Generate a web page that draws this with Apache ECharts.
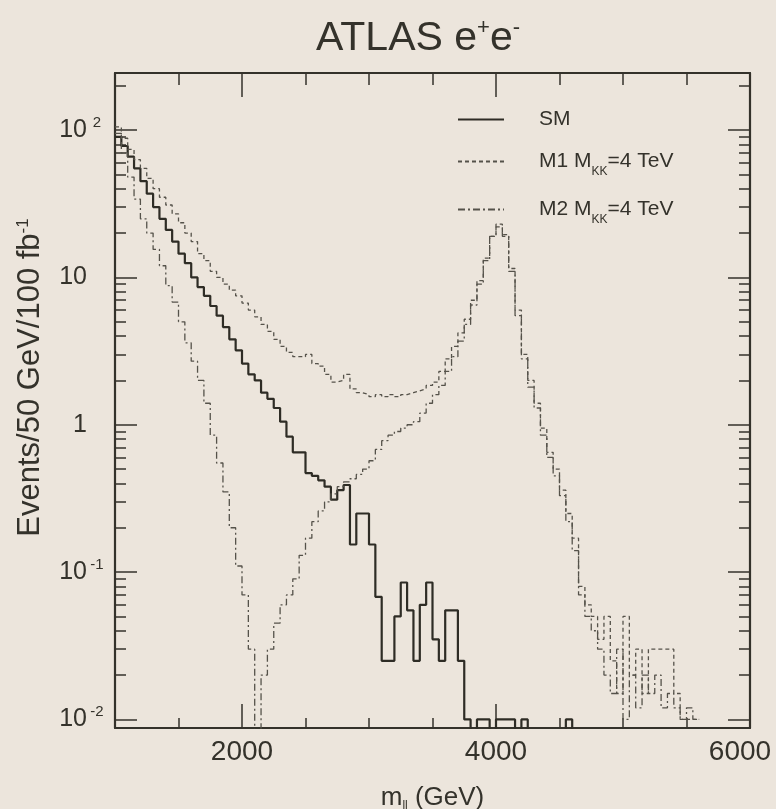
<!DOCTYPE html>
<html>
<head>
<meta charset="utf-8">
<script src="https://cdn.jsdelivr.net/npm/echarts@6/dist/echarts.min.js"></script>
<style>
html,body{margin:0;padding:0;background:#ece5dc;}
#chart{width:776px;height:809px;}
</style>
</head>
<body>
<div id="chart"></div>
<script>
// Bin definition (GeV): histograms with 50 GeV bins starting at binStart
const binStart = 1000;
const binWidth = 50;

// SM Drell-Yan e+e- (events / 50 GeV / 100 fb^-1), bins from 1000 GeV
const smValues = [
  90, 78, 66, 55, 45, 37, 30, 25, 21, 17.5,
  14.5, 12.5, 10, 8.6, 7.5, 6.4, 5.5, 4.6, 3.8, 3.2,
  2.6, 2.2, 2.0, 1.65, 1.5, 1.3, 1.05, 0.83, 0.65, 0.65,
  0.47, 0.45, 0.42, 0.38, 0.31, 0.36, 0.39, 0.154, 0.25, 0.25,
  0.154, 0.068, 0.025, 0.025, 0.05, 0.085, 0.055, 0.025, 0.06, 0.085,
  0.035, 0.025, 0.055, 0.055, 0.025, 0.01, 0, 0.01, 0.01, 0,
  0.01, 0.01, 0.01, 0, 0.01, 0, 0, 0, 0, 0,
  0, 0.01, 0
];

// Model M1, M_KK = 4 TeV
const m1Values = [
  105, 88, 74, 63, 55, 47, 40, 35, 31, 27,
  23.5, 20, 17.5, 14.5, 13, 11, 10, 9, 8.2, 7.5,
  6.7, 6.0, 5.4, 4.8, 4.3, 3.8, 3.4, 3.1, 2.9, 2.9,
  3.0, 2.6, 2.5, 2.2, 1.95, 2.0, 2.2, 1.75, 1.65, 1.6,
  1.55, 1.6, 1.55, 1.6, 1.55, 1.6, 1.65, 1.7, 1.75, 1.85,
  1.95, 2.3, 2.8, 3.4, 4.2, 5.2, 7.0, 9.5, 13.5, 19,
  23, 19.5, 11.5, 6, 3.0, 2.0, 1.4, 0.95, 0.65, 0.5,
  0.36, 0.25, 0.17, 0.08, 0.06, 0.05, 0.035, 0.05, 0.025, 0.015,
  0.05, 0.02, 0.03, 0.015, 0.03, 0.03, 0.03, 0.03, 0.015, 0.01,
  0.01, 0.01
];

// Model M2, M_KK = 4 TeV
const m2Values = [
  95, 70, 48, 34, 25, 20, 15.5, 12, 8.8, 6.8,
  5.0, 3.6, 2.7, 2.0, 1.4, 0.85, 0.55, 0.35, 0.2, 0.11,
  0.07, 0.03, 0.005, 0.02, 0.03, 0.045, 0.06, 0.07, 0.09, 0.13,
  0.17, 0.22, 0.26, 0.3, 0.34, 0.38, 0.41, 0.43, 0.46, 0.5,
  0.57, 0.68, 0.78, 0.85, 0.9, 0.95, 1.0, 1.05, 1.2, 1.4,
  1.6, 1.85, 2.3, 2.9, 3.7, 4.8, 6.5, 9, 13, 19,
  22, 19, 11, 5.5, 2.8, 1.8, 1.3, 0.85, 0.6, 0.45,
  0.33, 0.22, 0.14, 0.07, 0.05, 0.04, 0.03, 0.02, 0.015, 0.03,
  0.01, 0.02, 0.012, 0.02, 0.015, 0.02, 0.012, 0.015, 0.012, 0.01,
  0.012, 0.01
];

// Axes
const xMin = 1000, xMax = 6000, xMinorStep = 500;
const xMajorTicks = [2000, 4000, 6000];
const yMin = 0.00875, yMax = 244;
const yMajorTicks = [0.01, 0.1, 1, 10, 100];
const yMinorTicks = [0.02,0.03,0.04,0.05,0.06,0.07,0.08,0.09,
                     0.2,0.3,0.4,0.5,0.6,0.7,0.8,0.9,
                     2,3,4,5,6,7,8,9,
                     20,30,40,50,60,70,80,90,200];

const ink = '#34322b';
const FONT = 'Liberation Sans, Arial, sans-serif';
const FLOOR = 1e-3; // empty bins are drawn below the axis floor

function histPoints(values) {
  const pts = values.map((v, i) => [binStart + i * binWidth, v > 0 ? v : FLOOR]);
  const last = values[values.length - 1];
  pts.push([binStart + values.length * binWidth, last > 0 ? last : FLOOR]);
  return pts;
}

function yLabel(v) {
  const e = Math.round(Math.log10(v));
  if (e === 0) return '{b|1}{s| }';
  if (e === 1) return '{b|10}{s| }';
  return '{b|10}{s|' + e + '}';
}

function xLabel(v) {
  return v === xMax ? '{r|' + v + '}' : '{n|' + v + '}';
}

const xBase = {type: 'value', min: xMin, max: xMax, splitLine: {show: false}};
const yBase = {type: 'log', logBase: 10, min: yMin, max: yMax, splitLine: {show: false}};

const chart = echarts.init(document.getElementById('chart'));
chart.setOption({
  backgroundColor: '#ece5dc',
  animation: false,
  title: {
    text: '{t|ATLAS e}{s|+}{t|e}{s|-}',
    left: 311, top: 12,
    textStyle: {
      fontWeight: 'normal',
      rich: {
        t: {fontFamily: FONT, fontSize: 41, fontWeight: 'normal', color: ink, lineHeight: 44},
        s: {fontFamily: FONT, fontSize: 22, fontWeight: 'normal', color: ink, verticalAlign: 'top', lineHeight: 20}
      }
    }
  },
  grid: {left: 115, right: 26, top: 73, bottom: 81, outerBoundsMode: 'none', containLabel: false},
  legend: {
    orient: 'vertical', left: 452, top: 104,
    itemWidth: 46, itemHeight: 14, itemGap: 21,
    data: ['SM', 'M1', 'M2'],
    itemStyle: {opacity: 0},
    formatter: n => n === 'SM' ? '{a|SM}' : '{a|' + n + ' M}{k|KK}{a|=4 TeV}',
    textStyle: {
      padding: [0, 0, 0, 30],
      rich: {
        a: {fontFamily: FONT, fontSize: 21, color: ink},
        k: {fontFamily: FONT, fontSize: 12, color: ink, verticalAlign: 'bottom', padding: [0, 0, -6, 0]}
      }
    }
  },
  xAxis: [
    Object.assign({}, xBase, {
      position: 'bottom', interval: xMinorStep,
      axisLine: {show: true, lineStyle: {color: ink, width: 2.2}},
      axisTick: {show: true, inside: true, length: 10, lineStyle: {color: ink, width: 1.5}},
      axisLabel: {
        customValues: xMajorTicks, formatter: xLabel, margin: 10,
        rich: {
          n: {fontFamily: FONT, fontSize: 28, color: ink},
          r: {fontFamily: FONT, fontSize: 28, color: ink, padding: [0, 20, 0, 0]}
        }
      },
      name: '{a|m}{b|ll}{a| (GeV)}', nameLocation: 'middle', nameGap: 56,
      nameTextStyle: {rich: {
        a: {fontFamily: FONT, fontSize: 26, color: ink, lineHeight: 28},
        b: {fontFamily: FONT, fontSize: 12, color: ink, verticalAlign: 'bottom', lineHeight: 12}
      }}
    }),
    Object.assign({}, xBase, {
      position: 'bottom',
      axisLine: {show: false},
      axisTick: {show: true, inside: true, length: 24, customValues: xMajorTicks, lineStyle: {color: ink, width: 1.5}},
      axisLabel: {show: false}
    }),
    Object.assign({}, xBase, {
      position: 'top', interval: xMinorStep,
      axisLine: {show: true, lineStyle: {color: ink, width: 2.2}},
      axisTick: {show: true, inside: true, length: 12, lineStyle: {color: ink, width: 1.5}},
      axisLabel: {show: false}
    }),
    Object.assign({}, xBase, {
      position: 'top',
      axisLine: {show: false},
      axisTick: {show: true, inside: true, length: 24, customValues: xMajorTicks, lineStyle: {color: ink, width: 1.5}},
      axisLabel: {show: false}
    })
  ],
  yAxis: [
    Object.assign({}, yBase, {
      position: 'left',
      axisLine: {show: true, lineStyle: {color: ink, width: 2.2}},
      axisTick: {show: true, inside: true, length: 22, customValues: yMajorTicks, lineStyle: {color: ink, width: 1.5}},
      axisLabel: {
        customValues: yMajorTicks, margin: 8, formatter: yLabel,
        rich: {
          b: {fontFamily: FONT, fontSize: 25, color: ink, lineHeight: 30},
          s: {fontFamily: FONT, fontSize: 15, color: ink, width: 20, align: 'left', verticalAlign: 'top', lineHeight: 16}
        }
      },
      name: '{a|Events/50 GeV/100 fb}{s|-1}', nameLocation: 'middle', nameRotate: 90, nameGap: 69,
      nameTextStyle: {
        padding: [0, 0, 0, 46],
        rich: {
          a: {fontFamily: FONT, fontSize: 31, color: ink},
          s: {fontFamily: FONT, fontSize: 17, color: ink, verticalAlign: 'top'}
        }
      }
    }),
    Object.assign({}, yBase, {
      position: 'left',
      axisLine: {show: false},
      axisTick: {show: true, inside: true, length: 11, customValues: yMinorTicks, lineStyle: {color: ink, width: 1.5}},
      axisLabel: {show: false}
    }),
    Object.assign({}, yBase, {
      position: 'right',
      axisLine: {show: true, lineStyle: {color: ink, width: 2.2}},
      axisTick: {show: true, inside: true, length: 22, customValues: yMajorTicks, lineStyle: {color: ink, width: 1.5}},
      axisLabel: {show: false}
    }),
    Object.assign({}, yBase, {
      position: 'right',
      axisLine: {show: false},
      axisTick: {show: true, inside: true, length: 11, customValues: yMinorTicks, lineStyle: {color: ink, width: 1.5}},
      axisLabel: {show: false}
    })
  ],
  series: [
    {
      name: 'SM', type: 'line', step: 'end', symbol: 'none', clip: true,
      data: histPoints(smValues),
      itemStyle: {color: '#2e2c25'},
      lineStyle: {color: '#2e2c25', width: 2.2}
    },
    {
      name: 'M1', type: 'line', step: 'end', symbol: 'none', clip: true,
      data: histPoints(m1Values),
      itemStyle: {color: '#55524a'},
      lineStyle: {color: '#55524a', width: 1.3, type: [4, 3]}
    },
    {
      name: 'M2', type: 'line', step: 'end', symbol: 'none', clip: true,
      data: histPoints(m2Values),
      itemStyle: {color: '#55524a'},
      lineStyle: {color: '#55524a', width: 1.3, type: [7, 3, 2, 3]}
    }
  ]
});
</script>
</body>
</html>
